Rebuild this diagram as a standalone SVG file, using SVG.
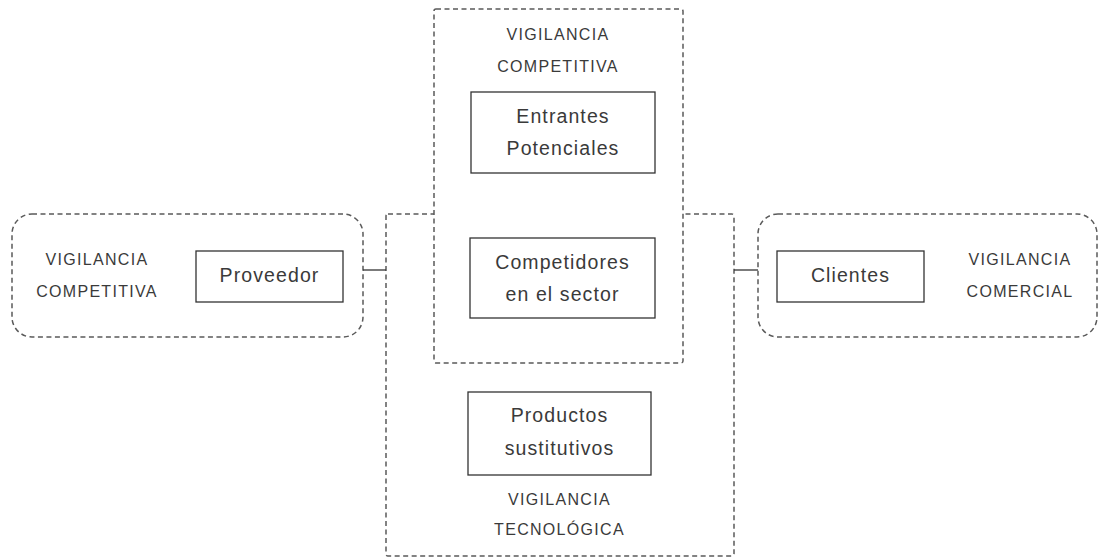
<svg xmlns="http://www.w3.org/2000/svg" width="1101" height="559" viewBox="0 0 1101 559">
<style>
.dash{fill:#fff;stroke:#5a5a5a;stroke-width:1.5;stroke-dasharray:5 3.5}
.box{fill:#fff;stroke:#333;stroke-width:1.3}
.lbl{font-family:"Liberation Sans",Arial,sans-serif;font-size:16px;fill:#3a3a3a;text-anchor:middle;letter-spacing:1.3px}
.txt{font-family:"Liberation Sans",Arial,sans-serif;font-size:19.5px;fill:#3a3a3a;text-anchor:middle;letter-spacing:1.1px}
.con{stroke:#333;stroke-width:1.3;fill:none}
</style>
<rect width="1101" height="559" fill="#fff"/>
<g id="tecnologica">
<rect class="dash" x="386" y="214" width="348" height="342" rx="2"/>
</g>
<g id="competitiva-top">
<rect class="dash" x="434" y="9" width="249" height="354" rx="2"/>
<text class="lbl" x="558" y="40">VIGILANCIA</text>
<text class="lbl" x="558" y="72">COMPETITIVA</text>
</g>
<g id="entrantes">
<rect class="box" x="471" y="92" width="184" height="81"/>
<text class="txt" x="563" y="123">Entrantes</text>
<text class="txt" x="563" y="155">Potenciales</text>
</g>
<g id="competidores">
<rect class="box" x="470" y="238" width="185" height="80"/>
<text class="txt" x="562.5" y="269">Competidores</text>
<text class="txt" x="562.5" y="301">en el sector</text>
</g>
<g id="productos">
<rect class="box" x="468" y="392" width="183" height="83"/>
<text class="txt" x="559.5" y="422">Productos</text>
<text class="txt" x="559.5" y="455">sustitutivos</text>
<text class="lbl" x="559.5" y="505">VIGILANCIA</text>
<text class="lbl" x="559.5" y="535">TECNOLÓGICA</text>
</g>
<g id="competitiva-left">
<rect class="dash" x="12" y="214" width="351" height="123" rx="20"/>
<text class="lbl" x="97" y="265">VIGILANCIA</text>
<text class="lbl" x="97" y="297">COMPETITIVA</text>
</g>
<g id="proveedor">
<rect class="box" x="196" y="251" width="147" height="51"/>
<text class="txt" x="269.5" y="282">Proveedor</text>
</g>
<g id="comercial">
<rect class="dash" x="758" y="214" width="339" height="123" rx="20"/>
<text class="lbl" x="1020" y="265">VIGILANCIA</text>
<text class="lbl" x="1020" y="297">COMERCIAL</text>
</g>
<g id="clientes">
<rect class="box" x="777" y="251" width="147" height="51"/>
<text class="txt" x="850.5" y="282">Clientes</text>
</g>
<g id="connectors">
<line class="con" x1="363" y1="270" x2="386" y2="270"/>
<line class="con" x1="734" y1="270" x2="758" y2="270"/>
</g>
</svg>
